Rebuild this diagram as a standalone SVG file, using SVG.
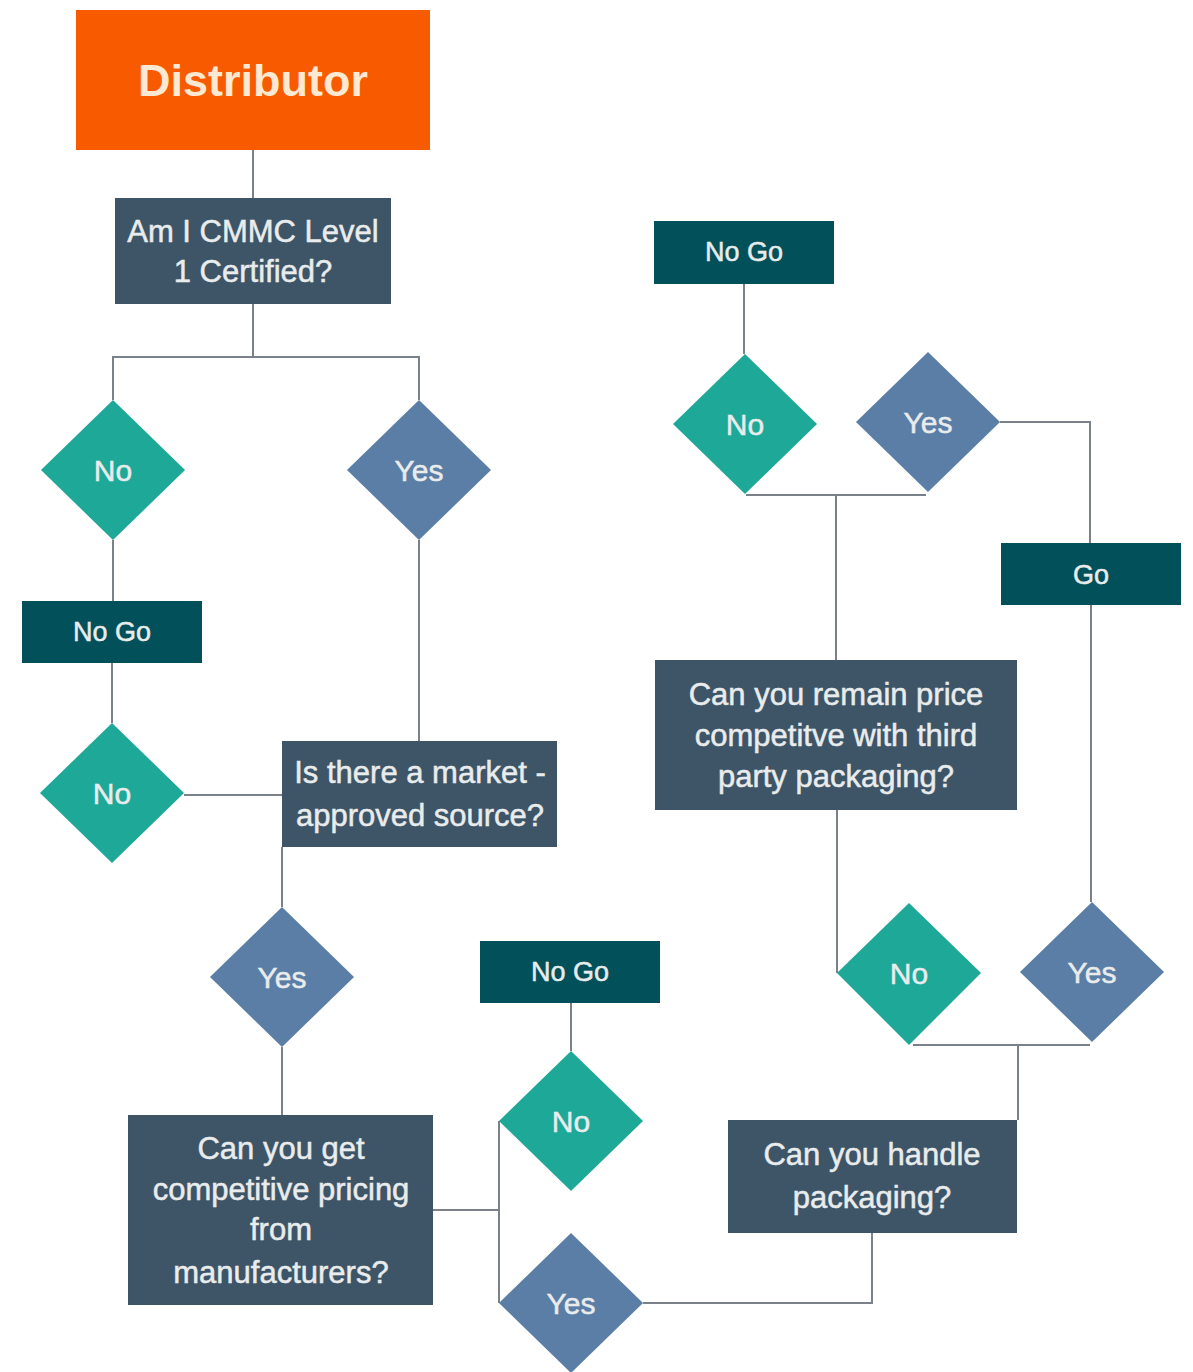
<svg xmlns="http://www.w3.org/2000/svg" width="1193" height="1372" viewBox="0 0 1193 1372">
  <style>
    .q { fill: #3e5568; }
    .end { fill: #025059; }
    .no { fill: #1ea898; }
    .yes { fill: #5a7ea6; }
    .lbl { font-family: "Liberation Sans", Arial, sans-serif; font-size: 31px; fill: #e9ecec; stroke: #e9ecec; stroke-width: 0.5; text-anchor: middle; dominant-baseline: central; }
    .dia { font-size: 30px; }
    .small { font-size: 27px; }
    .wire { fill: none; stroke: #7b8189; stroke-width: 2; }
  </style>
  <rect width="1193" height="1372" fill="#ffffff"/>

  <g id="connectors">
    <path class="wire" d="M253,150 V198"/>
    <path class="wire" d="M253,304 V357 M113,400 V357 H419 V400"/>
    <path class="wire" d="M113,540 V601"/>
    <path class="wire" d="M112,663 V723"/>
    <path class="wire" d="M184,795 H282"/>
    <path class="wire" d="M419,540 V741"/>
    <path class="wire" d="M282,847 V907"/>
    <path class="wire" d="M282,1047 V1115"/>
    <path class="wire" d="M433,1210 H498 M499,1121 V1303"/>
    <path class="wire" d="M571,1003 V1051"/>
    <path class="wire" d="M643,1303 H872 V1233"/>
    <path class="wire" d="M1018,1120 V1045 M913,1045 H1090"/>
    <path class="wire" d="M837,973 V810"/>
    <path class="wire" d="M836,660 V495 M746,495 H926"/>
    <path class="wire" d="M744,284 V354"/>
    <path class="wire" d="M1000,422 H1090 V543"/>
    <path class="wire" d="M1091,605 V902"/>
  </g>

  <g id="distributor">
    <rect x="76" y="10" width="354" height="140" fill="#f85a00"/>
    <text x="253" y="80" class="lbl" style="font-size:45px;font-weight:bold;fill:#fde8d2;stroke:none">Distributor</text>
  </g>

  <g id="cmmc">
    <rect class="q" x="115" y="198" width="276" height="106"/>
    <text class="lbl" x="253" y="231">Am I CMMC Level</text>
    <text class="lbl" x="253" y="271">1 Certified?</text>
  </g>

  <g id="cmmc-no">
    <polygon class="no" points="113,400 185,470 113,540 41,470"/>
    <text class="lbl dia" x="113" y="470">No</text>
  </g>

  <g id="cmmc-yes">
    <polygon class="yes" points="419,400 491,470 419,540 347,470"/>
    <text class="lbl dia" x="419" y="470">Yes</text>
  </g>

  <g id="nogo-1">
    <rect class="end" x="22" y="601" width="180" height="62"/>
    <text class="lbl small" x="112" y="632">No Go</text>
  </g>

  <g id="source-no">
    <polygon class="no" points="112,723 184,793 112,863 40,793"/>
    <text class="lbl dia" x="112" y="793">No</text>
  </g>

  <g id="source">
    <rect class="q" x="282" y="741" width="275" height="106"/>
    <text class="lbl" x="420" y="772">Is there a market -</text>
    <text class="lbl" x="420" y="815">approved source?</text>
  </g>

  <g id="source-yes">
    <polygon class="yes" points="282,907 354,977 282,1047 210,977"/>
    <text class="lbl dia" x="282" y="977">Yes</text>
  </g>

  <g id="pricing">
    <rect class="q" x="128" y="1115" width="305" height="190"/>
    <text class="lbl" x="281" y="1148">Can you get</text>
    <text class="lbl" x="281" y="1189">competitive pricing</text>
    <text class="lbl" x="281" y="1229">from</text>
    <text class="lbl" x="281" y="1272">manufacturers?</text>
  </g>

  <g id="nogo-2">
    <rect class="end" x="480" y="941" width="180" height="62"/>
    <text class="lbl small" x="570" y="972">No Go</text>
  </g>

  <g id="pricing-no">
    <polygon class="no" points="571,1051 643,1121 571,1191 499,1121"/>
    <text class="lbl dia" x="571" y="1121">No</text>
  </g>

  <g id="pricing-yes">
    <polygon class="yes" points="571,1233 643,1303 571,1373 499,1303"/>
    <text class="lbl dia" x="571" y="1303">Yes</text>
  </g>

  <g id="packaging">
    <rect class="q" x="728" y="1120" width="289" height="113"/>
    <text class="lbl" x="872" y="1154">Can you handle</text>
    <text class="lbl" x="872" y="1197">packaging?</text>
  </g>

  <g id="packaging-no">
    <polygon class="no" points="909,903 981,973 909,1045 837,973"/>
    <text class="lbl dia" x="909" y="973">No</text>
  </g>

  <g id="packaging-yes">
    <polygon class="yes" points="1092,902 1164,972 1092,1042 1020,972"/>
    <text class="lbl dia" x="1092" y="972">Yes</text>
  </g>

  <g id="third-party">
    <rect class="q" x="655" y="660" width="362" height="150"/>
    <text class="lbl" x="836" y="694">Can you remain price</text>
    <text class="lbl" x="836" y="735">competitve with third</text>
    <text class="lbl" x="836" y="776">party packaging?</text>
  </g>

  <g id="third-party-no">
    <polygon class="no" points="745,354 817,424 745,494 673,424"/>
    <text class="lbl dia" x="745" y="424">No</text>
  </g>

  <g id="third-party-yes">
    <polygon class="yes" points="928,352 1000,422 928,492 856,422"/>
    <text class="lbl dia" x="928" y="422">Yes</text>
  </g>

  <g id="nogo-3">
    <rect class="end" x="654" y="221" width="180" height="63"/>
    <text class="lbl small" x="744" y="252">No Go</text>
  </g>

  <g id="go">
    <rect class="end" x="1001" y="543" width="180" height="62"/>
    <text class="lbl small" x="1091" y="575">Go</text>
  </g>
</svg>
